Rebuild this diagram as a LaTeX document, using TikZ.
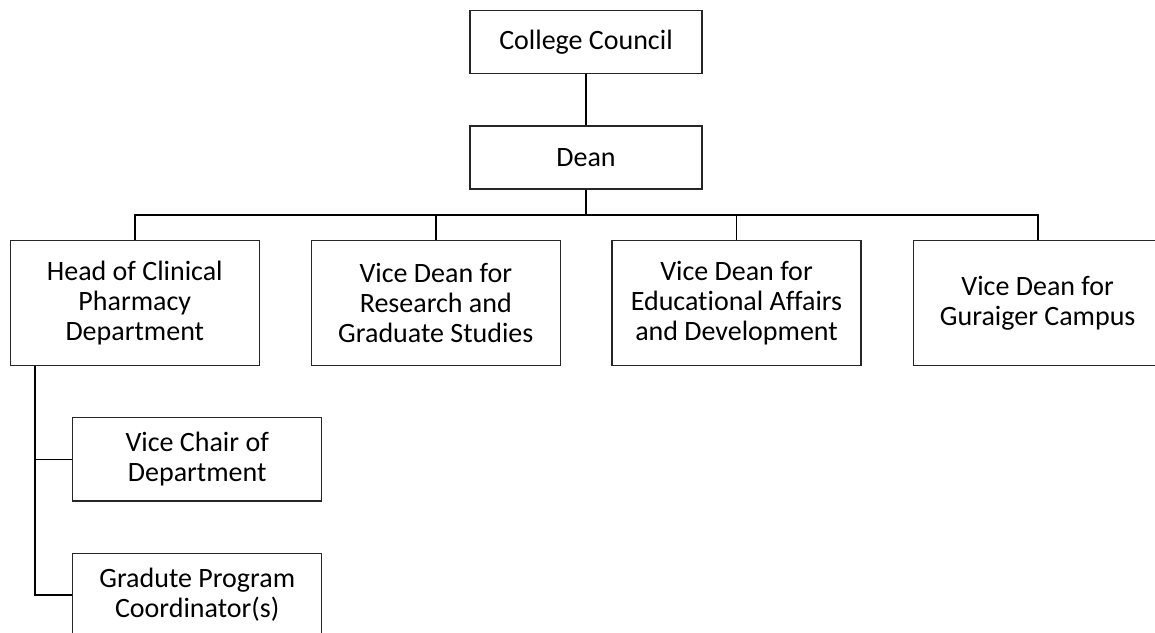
\documentclass[tikz,border=0pt]{standalone}
\usepackage{fontspec}
\setmainfont{Carlito}[RawFeature=-liga]
\begin{document}
\begin{tikzpicture}[x=1pt,y=-1pt,
  box/.style={draw=black!85, line width=1.2pt, minimum width=249pt, minimum height=124.6pt,
    align=center, inner sep=0pt, font=\fontsize{28}{30}\selectfont},
  small/.style={box, minimum height=83.3pt},
  top/.style={box, minimum width=232pt, minimum height=63pt},
  conn/.style={draw=black, line width=1.7pt}]
\useasboundingbox (0,0) rectangle (1155,632);
\node[top] (cc) at (586,42.2) {College Council};
\node[top] (dean) at (586,157.5) {Dean};
\node[box] (h1) at (134.8,303) {Head of Clinical\\Pharmacy\\Department};
\node[box] (h2) at (435.8,303) {Vice Dean for\\Research and\\Graduate Studies};
\node[box] (h3) at (736.5,303) {Vice Dean for\\Educational Affairs\\and Development};
\node[box] (h4) at (1037.7,303) {Vice Dean for\\Guraiger Campus};
\node[small] (vc) at (197.2,459.4) {Vice Chair of\\Department};
\node[small] (gpc) at (197.2,595) {Gradute Program\\Coordinator(s)};
\coordinate (bus) at (586,215);
\coordinate (t0) at (35,0);
\draw[conn] (cc.south) -- (dean.north);
\draw[conn] (dean.south) -- (bus);
\draw[conn] (h1.north) -- (h1.north |- bus) -- (h4.north |- bus) -- (h4.north);
\draw[conn] (h2.north) -- (h2.north |- bus);
\draw[conn] (h3.north) -- (h3.north |- bus);
\draw[conn] (h1.south -| t0) -- (t0 |- gpc.west) -- (gpc.west);
\draw[conn] (t0 |- vc.west) -- (vc.west);
\end{tikzpicture}
\end{document}
